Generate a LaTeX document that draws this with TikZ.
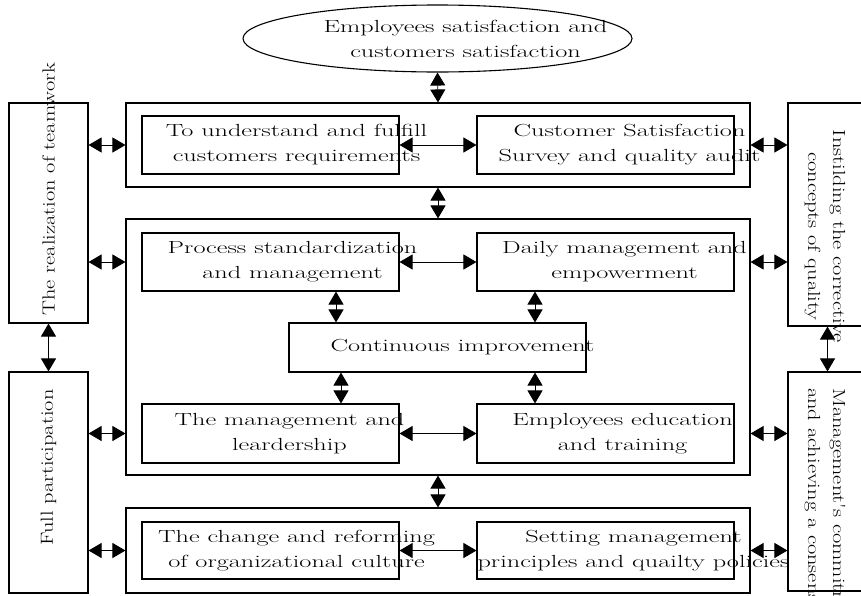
\documentclass[tikz,border=0pt]{standalone}
\usepackage{fontspec}
\setmainfont{Latin Modern Roman}
\newfontfamily\widefont{Latin Modern Roman}[FakeStretch=1.5]
\newfontfamily\tallfont{Latin Modern Roman}[FakeStretch=1.28]
\usetikzlibrary{arrows.meta, shapes.geometric}

\tikzset{
  frame/.style={draw, line width=1.1pt, inner sep=0pt, minimum width=624pt},
  box/.style={draw, line width=1.1pt, inner sep=0pt, minimum width=257pt, minimum height=58pt},
  side/.style={draw, line width=1.1pt, inner sep=0pt, minimum width=79pt},
  txt/.style={align=center, inner sep=0pt, font=\widefont\fontsize{17.5}{25}\selectfont},
  vtxt/.style={align=center, inner sep=0pt, font=\tallfont\fontsize{17.5}{25}\selectfont},
  link/.style={line width=0.9pt, {Triangle[length=13pt,width=15pt]}-{Triangle[length=13pt,width=15pt]}},
}

\begin{document}
\begin{tikzpicture}[x=1pt,y=-1pt]
\useasboundingbox (0,0) rectangle (861,595);
\clip (0,0) rectangle (861,595);

% goal on top
\node[draw, ellipse, line width=1.1pt, inner sep=0pt, minimum width=389pt, minimum height=67pt] (goal) at (437.5,38.5) {};
\node[txt] (goaltext) at ([xshift=28pt]goal.center) {Employees satisfaction and\\customers satisfaction};

% three frames
\node[frame, minimum height=84pt] (top) at (438,145) {};
\node[frame, minimum height=256pt] (mid) at (438,347) {};
\node[frame, minimum height=85pt] (bot) at (438,550.5) {};

% inner boxes
\node[box] (know) at (270.5,145) {};
\node[box] (survey) at (605.5,145) {};
\node[box] (process) at (270.5,262) {};
\node[box] (daily) at (605.5,262) {};
\node[box, minimum width=297pt, minimum height=49pt] (improve) at (437.5,347.5) {};
\node[box, minimum height=59pt] (lead) at (270.5,433.5) {};
\node[box, minimum height=59pt] (train) at (605.5,433.5) {};
\node[box, minimum height=57pt] (culture) at (270.5,550.5) {};
\node[box, minimum height=57pt] (policy) at (605.5,550.5) {};

\node[txt] (knowtext) at ([xshift=26pt]know.center) {To understand and fulfill\\customers requirements};
\node[txt] (surveytext) at ([xshift=24pt]survey.center) {Customer Satisfaction\\Survey and quality audit};
\node[txt] (processtext) at ([xshift=22pt]process.center) {Process standardization\\and management};
\node[txt] (dailytext) at ([xshift=19pt]daily.center) {Daily management and\\empowerment};
\node[txt] (improvetext) at ([xshift=25pt]improve.center) {Continuous improvement};
\node[txt] (leadtext) at ([xshift=19pt]lead.center) {The management and\\leardership};
\node[txt] (traintext) at ([xshift=17pt]train.center) {Employees education\\and training};
\node[txt] (culturetext) at ([xshift=26pt]culture.center) {The change and reforming\\of organizational culture};
\node[txt] (policytext) at ([xshift=28pt]policy.center) {Setting management\\principles and quailty policies};

% side boxes
\node[side, minimum height=220pt] (team) at (48.5,213) {};
\node[side, minimum height=221pt] (full) at (48.5,482.5) {};
\node[side, minimum height=223pt] (instill) at (827.5,214.5) {};
\node[side, minimum height=219pt] (commit) at (827.5,481.5) {};

\node[vtxt, rotate=90] (teamtext) at ([yshift=24pt]team.center) {The realization of teamwork};
\node[vtxt, rotate=90] (fulltext) at ([yshift=15pt]full.center) {Full participation};
\node[vtxt, rotate=-90] (instilltext) at ([xshift=-2.5pt,yshift=-22pt]instill.center) {Instilding the corrective\\concepts of quality};
\node[vtxt, rotate=-90, anchor=west, align=left] (committext) at (825,388) {Management's commitment\\and achieving a consensus};

% links between levels
\draw[link] (goal.south) -- (top.north);
\draw[link] (top.south) -- (mid.north);
\draw[link] (mid.south) -- (bot.north);

% links inside the frames
\draw[link] (know.east) -- (survey.west);
\draw[link] (process.east) -- (daily.west);
\draw[link] (lead.east) -- (train.west);
\draw[link] (culture.east) -- (policy.west);
\draw[link] ([xshift=65.5pt]process.south) -- ([xshift=65.5pt]process.south |- improve.north);
\draw[link] ([xshift=-70.5pt]daily.south) -- ([xshift=-70.5pt]daily.south |- improve.north);
\draw[link] ([xshift=70.5pt]lead.north |- improve.south) -- ([xshift=70.5pt]lead.north);
\draw[link] ([xshift=-70.5pt]train.north |- improve.south) -- ([xshift=-70.5pt]train.north);

% links to the sides
\draw[link] (team.east |- know.east) -- (top.west |- know.east);
\draw[link] (team.east |- process.east) -- (mid.west |- process.east);
\draw[link] (full.east |- lead.east) -- (mid.west |- lead.east);
\draw[link] (full.east |- culture.east) -- (bot.west |- culture.east);
\draw[link] (top.east |- survey.east) -- (instill.west |- survey.east);
\draw[link] (mid.east |- daily.east) -- (instill.west |- daily.east);
\draw[link] (mid.east |- train.east) -- (commit.west |- train.east);
\draw[link] (bot.east |- policy.east) -- (commit.west |- policy.east);
\draw[link] (team.south) -- (full.north);
\draw[link] (instill.south) -- (commit.north);
\end{tikzpicture}
\end{document}
